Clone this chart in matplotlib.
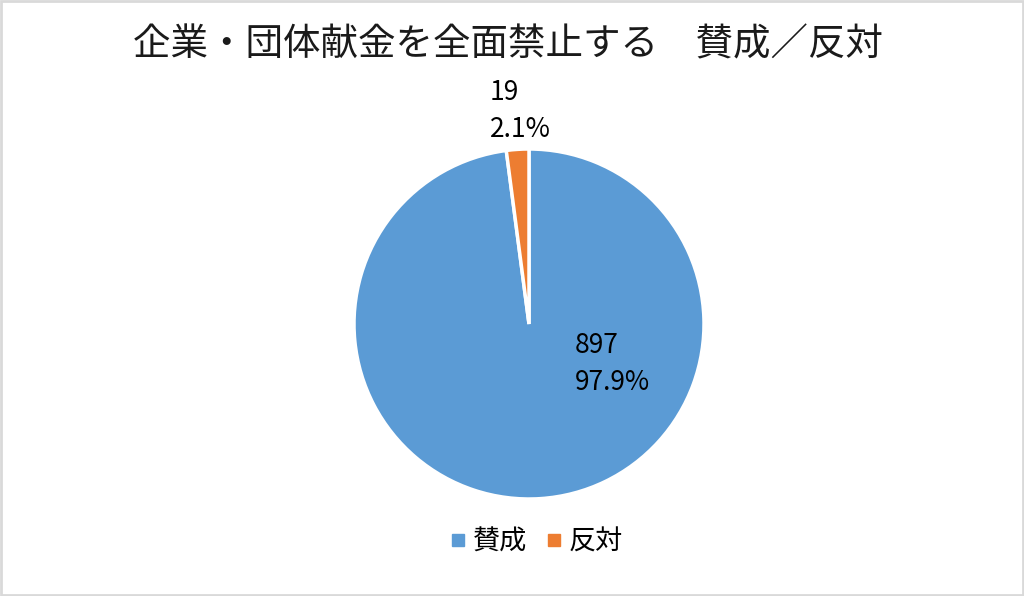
import numpy as np
import matplotlib.pyplot as plt
from matplotlib.patches import Rectangle

plt.rcParams['font.family'] = ['Noto Sans CJK JP', 'DejaVu Sans']

# data
labels = ['賛成', '反対']
values = [897, 19]
colors = ['#5B9BD5', '#ED7D31']
title = '企業・団体献金を全面禁止する　賛成／反対'

fig = plt.figure(figsize=(10.24, 5.96), dpi=100)
fig.patches.append(Rectangle((0.001, 0.002), 0.998, 0.996, transform=fig.transFigure,
                             fill=False, edgecolor='#D9D9D9', linewidth=2))

# pie axes: centre ~ (529, 324) px, radius ~175 px
cx, cy, r = 529, 324, 175
ax = fig.add_axes([(cx - r) / 1024, (596 - cy - r) / 596, 2 * r / 1024, 2 * r / 596])
wedges, _ = ax.pie(values, colors=colors, startangle=90, counterclock=False,
                   radius=1, wedgeprops=dict(edgecolor='white', linewidth=2.5))
ax.set_xlim(-1, 1)
ax.set_ylim(-1, 1)
ax.set_aspect('auto')
ax.axis('off')

total = sum(values)
# data labels (Excel-like placement, left aligned)
label_pos = [(0.263, -0.229), (-0.223, 1.217)]
for v, (lx, ly) in zip(values, label_pos):
    ax.text(lx, ly, f'{v}\n{v / total * 100:.1f}%', ha='left', va='center',
            fontsize=19, linespacing=1.5, color='black', clip_on=False)

fig.text(0.496, 0.925, title, ha='center', va='center', fontsize=27, color='#1a1a1a')

handles = [plt.Line2D([], [], marker='s', linestyle='', markersize=8, color=c) for c in colors]
fig.legend(handles, labels, loc='center', bbox_to_anchor=(0.521, 0.09), ncol=2,
           frameon=False, fontsize=19.5, handletextpad=0.05, columnspacing=0.5,
           handlelength=1.0)

fig.savefig('out.png', dpi=100)
